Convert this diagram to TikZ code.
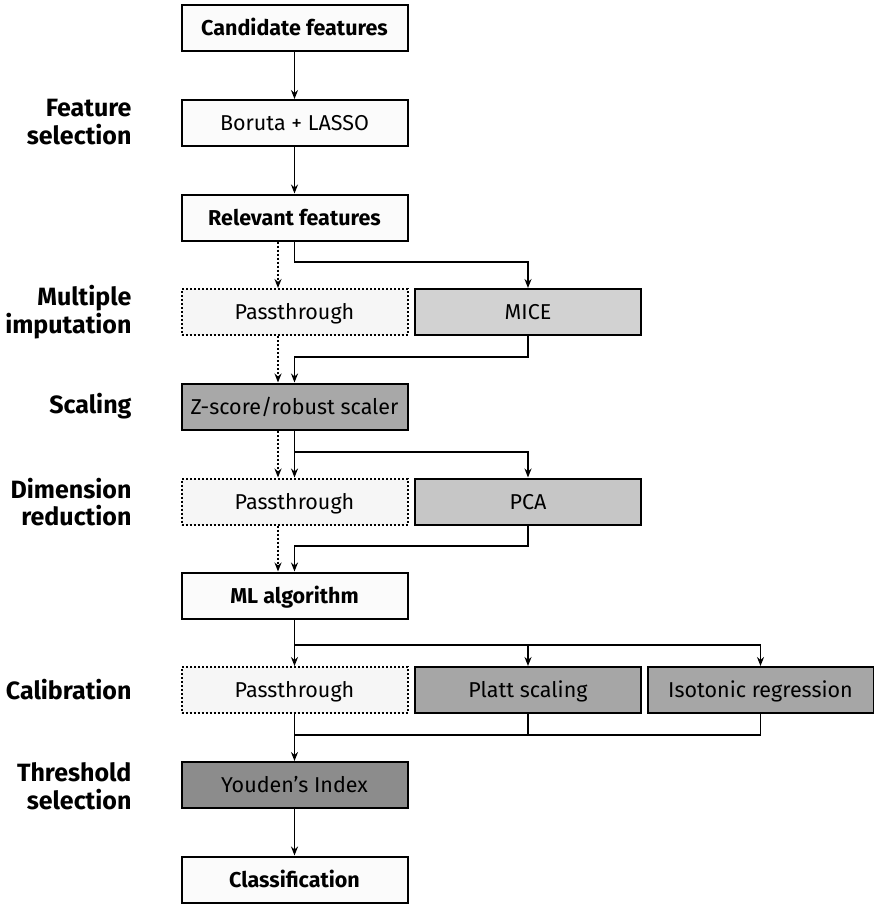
\documentclass[tikz,border=0pt]{standalone}
\usepackage{fontspec}
\setmainfont{Fira Sans}
\usetikzlibrary{arrows.meta}
\definecolor{cwhite}{HTML}{FBFBFB}
\definecolor{cpass}{HTML}{F6F6F6}
\definecolor{cmice}{HTML}{D2D2D2}
\definecolor{cpca}{HTML}{C6C6C6}
\definecolor{cscale}{HTML}{A8A8A8}
\definecolor{ccal}{HTML}{A6A6A6}
\definecolor{cyou}{HTML}{8C8C8C}
\begin{document}
\begin{tikzpicture}[x=1pt,y=-1pt,
  box/.style={draw=black,line width=2pt,minimum width=226pt,minimum height=46pt,inner sep=0pt,text height=15pt,text depth=0pt,font=\fontsize{21.5}{24}\selectfont},
  whitebox/.style={box,fill=cwhite},
  boldbox/.style={box,fill=cwhite,font=\fontsize{21.5}{24}\selectfont\bfseries},
  passbox/.style={box,fill=cpass,dash pattern=on 2pt off 2pt},
  lab/.style={align=right,anchor=east,font=\fontsize{25}{27.5}\selectfont\bfseries},
  conn/.style={line width=1.9pt},
  arr/.style={conn,-{Stealth[length=9pt,width=7pt]}},
  darr/.style={arr,dash pattern=on 2pt off 2pt}]
\useasboundingbox (0,0) rectangle (874,907);
% nodes
\node[boldbox] (cand) at (294.5,28) {Candidate features};
\node[whitebox] (bor) at (294.5,123) {Boruta + LASSO};
\node[boldbox] (rel) at (294.5,217.5) {Relevant features};
\node[passbox] (p1) at (294.5,312) {Passthrough};
\node[box,fill=cmice] (mice) at (528,312) {MICE};
\node[box,fill=cscale] (sc) at (294.5,406.5) {Z-score/robust scaler};
\node[passbox] (p2) at (294.5,501.5) {Passthrough};
\node[box,fill=cpca] (pca) at (528,501.5) {PCA};
\node[boldbox] (ml) at (294.5,595.5) {ML algorithm};
\node[passbox] (p3) at (294.5,690) {Passthrough};
\node[box,fill=ccal] (platt) at (528,690) {Platt scaling};
\node[box,fill=ccal] (iso) at (760.5,690) {Isotonic regression};
\node[box,fill=cyou] (you) at (294.5,785) {Youden’s Index};
\node[boldbox] (cls) at (294.5,879.5) {Classification};
% labels
\node[lab] (l1) at (135,122) {Feature\\selection};
\node[lab] (l2) at (135,312) {Multiple\\imputation};
\node[lab] (l3) at (135,406.5) {Scaling};
\node[lab] (l4) at (135,502) {Dimension\\reduction};
\node[lab] (l5) at (135,690) {Calibration};
\node[lab] (l6) at (135,786) {Threshold\\selection};
% coordinates
\coordinate (b1) at (294.5,262);
\coordinate (b2) at (528,262);
\coordinate (m1) at (528,357);
\coordinate (m2) at (294.5,357);
\coordinate (b3) at (294.5,452);
\coordinate (b4) at (528,452);
\coordinate (m3) at (528,546);
\coordinate (m4) at (294.5,546);
\coordinate (b5) at (294.5,645);
\coordinate (b6) at (528,645);
\coordinate (b7) at (760.5,645);
\coordinate (j1) at (294.5,735);
\coordinate (j2) at (528,735);
\coordinate (j3) at (760.5,735);
\coordinate (dx) at (278,0);
% connectors
\draw[arr] (cand) -- (bor);
\draw[arr] (bor) -- (rel);
\draw[darr] (rel.south -| dx) -- (p1.north -| dx);
\draw[arr] (rel.south) -- (b1) -- (b2) -- (mice.north);
\draw[arr] (mice.south) -- (m1) -- (m2) -- (sc.north);
\draw[darr] (p1.south -| dx) -- (sc.north -| dx);
\draw[arr] (sc.south) -- (p2.north);
\draw[arr] (b3) -- (b4) -- (pca.north);
\draw[darr] (sc.south -| dx) -- (p2.north -| dx);
\draw[arr] (pca.south) -- (m3) -- (m4) -- (ml.north);
\draw[darr] (p2.south -| dx) -- (ml.north -| dx);
\draw[arr] (ml.south) -- (p3.north);
\draw[arr] (b5) -- (b6) -- (platt.north);
\draw[arr] (b6) -- (b7) -- (iso.north);
\draw[arr] (p3.south) -- (you.north);
\draw[conn] (platt.south) -- (j2);
\draw[conn] (iso.south) -- (j3) -- (j1);
\draw[arr] (you) -- (cls);
\end{tikzpicture}
\end{document}
